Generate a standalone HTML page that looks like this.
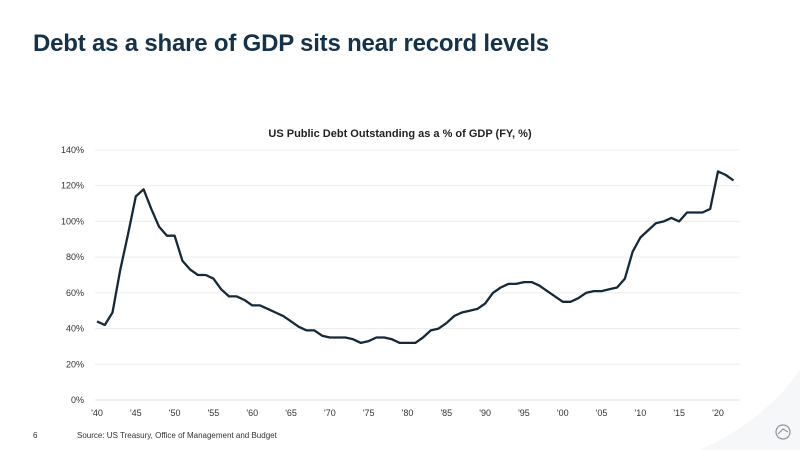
<!DOCTYPE html>
<html><head><meta charset="utf-8"><style>
body{margin:0;width:800px;height:450px;background:#fff;overflow:hidden;font-family:"Liberation Sans",sans-serif;position:relative}
h1{position:absolute;left:33px;top:30px;margin:0;font-size:24px;font-weight:bold;color:#15324b;letter-spacing:-0.2px}
</style></head><body>
<h1>Debt as a share of GDP sits near record levels</h1>
<svg width="800" height="450" style="position:absolute;left:0;top:0" id="chart">
<path d="M700 450 Q765 420 800 370 L800 450 Z" fill="#f6f7f8"/>
<text x="400" y="137" text-anchor="middle" font-size="11" font-weight="bold" fill="#222">US Public Debt Outstanding as a % of GDP (FY, %)</text>
<g id="grid"></g><g id="xt"></g>
<path id="line" fill="none" stroke="#15293a" stroke-width="2.3" stroke-linejoin="round"/>
<text x="33" y="438" font-size="8" fill="#333">6</text>
<text x="77" y="438" font-size="8" fill="#333">Source: US Treasury, Office of Management and Budget</text>
<circle cx="783" cy="432" r="7" fill="none" stroke="#8a97a3" stroke-width="1.2"/>
<path d="M778 434 L783 429 L788 432" fill="none" stroke="#8a97a3" stroke-width="1.2"/>
</svg>
<script>
const years=[1940,1941,1942,1943,1944,1945,1946,1947,1948,1949,1950,1951,1952,1953,1954,1955,1956,1957,1958,1959,1960,1961,1962,1963,1964,1965,1966,1967,1968,1969,1970,1971,1972,1973,1974,1975,1976,1977,1978,1979,1980,1981,1982,1983,1984,1985,1986,1987,1988,1989,1990,1991,1992,1993,1994,1995,1996,1997,1998,1999,2000,2001,2002,2003,2004,2005,2006,2007,2008,2009,2010,2011,2012,2013,2014,2015,2016,2017,2018,2019,2020,2021,2022];
const debtPct=[44,42,49,73,93,114,118,107,97,92,92,78,73,70,70,68,62,58,58,56,53,53,51,49,47,44,41,39,39,36,35,35,35,34,32,33,35,35,34,32,32,32,35,39,40,43,47,49,50,51,54,60,63,65,65,66,66,64,61,58,55,55,57,60,61,61,62,63,68,83,91,95,99,100,102,100,105,105,105,107,128,126,123];
const yTicks=[0,20,40,60,80,100,120,140];
const xTickYears=[1940,1945,1950,1955,1960,1965,1970,1975,1980,1985,1990,1995,2000,2005,2010,2015,2020];
const X=y=>97+(y-1940)*(621/80), Y=v=>400-v*(250/140);
const ns="http://www.w3.org/2000/svg";
const grid=document.getElementById('grid'), xt=document.getElementById('xt');
yTicks.forEach(t=>{
 const l=document.createElementNS(ns,'line');
 l.setAttribute('x1',95);l.setAttribute('x2',740);l.setAttribute('y1',Y(t));l.setAttribute('y2',Y(t));
 l.setAttribute('stroke',t===0?'#e2e2e2':'#ececec');l.setAttribute('stroke-width',1);
 
 
 grid.appendChild(l);
 const tx=document.createElementNS(ns,'text');
 tx.setAttribute('x',84);tx.setAttribute('y',Y(t)+3);tx.setAttribute('text-anchor','end');
 tx.setAttribute('font-size','9');tx.setAttribute('fill','#333');tx.textContent=t+'%';
 
 
 grid.appendChild(tx);
});
xTickYears.forEach(y=>{
 const tx=document.createElementNS(ns,'text');
 tx.setAttribute('x',X(y));tx.setAttribute('y',416);tx.setAttribute('text-anchor','middle');
 tx.setAttribute('font-size','9');tx.setAttribute('fill','#333');tx.textContent="'"+String(y).slice(2);
 
 
 xt.appendChild(tx);
});
document.getElementById('line').setAttribute('d',years.map((y,i)=>(i?'L':'M')+X(y).toFixed(1)+' '+Y(debtPct[i]).toFixed(1)).join(' '));
</script>
</body></html>
